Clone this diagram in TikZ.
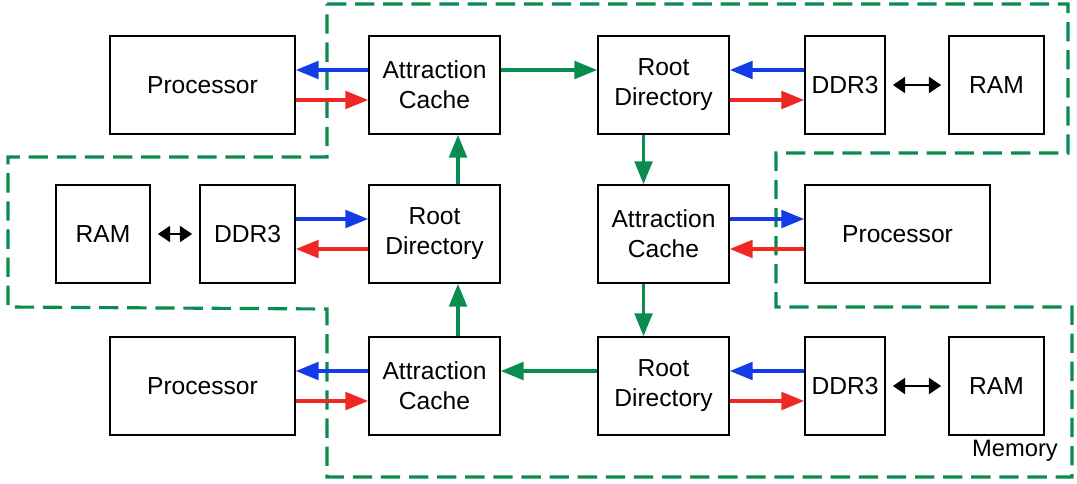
\documentclass[tikz,border=0pt]{standalone}
\usepackage{fontspec}
\setmainfont{Liberation Sans}
\usetikzlibrary{arrows.meta}
\tikzset{
  box/.style={draw, black, line width=0.9pt, minimum height=1.96cm, inner sep=0pt, align=center, font=\fontsize{14}{17}\selectfont},
  tip/.style={-{Triangle[length=13pt,width=10pt]}, line width=2pt},
  blue arrow/.style={tip, draw={rgb,255:red,20;green,60;blue,230}},
  red arrow/.style={tip, draw={rgb,255:red,240;green,40;blue,35}},
  green arrow/.style={tip, draw={rgb,255:red,10;green,140;blue,80}},
  black arrow/.style={{Triangle[length=7pt,width=9pt]}-{Triangle[length=7pt,width=9pt]}, line width=1.5pt, shorten <=4pt, shorten >=4pt},
}
\begin{document}
\begin{tikzpicture}[x=0.02cm, y=-0.02cm]
  \useasboundingbox (0,0) rectangle (1077,483);

  %% memory region
  \draw[dashed, dash pattern=on 11pt off 5pt, line width=1.8pt, draw={rgb,255:red,10;green,140;blue,80}]
    (327,4) -- (1068,4) -- (1068,153) -- (776,153) -- (776,307) -- (1072,307)
    -- (1072,477) -- (327,477) -- (327,309) -- (8,307) -- (8,157) -- (327,157) -- cycle;
  \node[anchor=south east, font=\fontsize{13.5}{15}\selectfont] (memlbl) at (1064,468) {Memory};

  %% row 1
  \node[box, minimum width=3.7cm]  (procA) at (202.5,85) {Processor};
  \node[box, minimum width=2.62cm] (acA)   at (434.5,85) {Attraction\\Cache};
  \node[box, minimum width=2.62cm] (rdA)   at (663.5,85) {Root\\Directory};
  \node[box, minimum width=1.6cm]  (ddrA)  at (845,85)   {DDR3};
  \node[box, minimum width=1.9cm]  (ramA)  at (996.5,85) {RAM};

  %% row 2
  \node[box, minimum width=1.88cm] (ramB)  at (103,234)   {RAM};
  \node[box, minimum width=1.9cm]  (ddrB)  at (247.5,234) {DDR3};
  \node[box, minimum width=2.62cm] (rdB)   at (434.5,234) {Root\\Directory};
  \node[box, minimum width=2.62cm] (acB)   at (663.5,234) {Attraction\\Cache};
  \node[box, minimum width=3.7cm]  (procB) at (897.5,234) {Processor};

  %% row 3
  \node[box, minimum width=3.7cm]  (procC) at (202.5,386) {Processor};
  \node[box, minimum width=2.62cm] (acC)   at (434.5,386) {Attraction\\Cache};
  \node[box, minimum width=2.62cm] (rdC)   at (663.5,386) {Root\\Directory};
  \node[box, minimum width=1.6cm]  (ddrC)  at (845,386)   {DDR3};
  \node[box, minimum width=1.9cm]  (ramC)  at (996.5,386) {RAM};

  %% processor <-> cache
  \draw[blue arrow] ([yshift=0.3cm]acA.west) -- ([yshift=0.3cm]procA.east);
  \draw[red arrow]  ([yshift=-0.3cm]procA.east) -- ([yshift=-0.3cm]acA.west);
  \draw[blue arrow] ([yshift=0.3cm]acB.east) -- ([yshift=0.3cm]procB.west);
  \draw[red arrow]  ([yshift=-0.3cm]procB.west) -- ([yshift=-0.3cm]acB.east);
  \draw[blue arrow] ([yshift=0.3cm]acC.west) -- ([yshift=0.3cm]procC.east);
  \draw[red arrow]  ([yshift=-0.3cm]procC.east) -- ([yshift=-0.3cm]acC.west);

  %% DDR3 <-> directory
  \draw[blue arrow] ([yshift=0.3cm]ddrA.west) -- ([yshift=0.3cm]rdA.east);
  \draw[red arrow]  ([yshift=-0.3cm]rdA.east) -- ([yshift=-0.3cm]ddrA.west);
  \draw[blue arrow] ([yshift=0.3cm]ddrB.east) -- ([yshift=0.3cm]rdB.west);
  \draw[red arrow]  ([yshift=-0.3cm]rdB.west) -- ([yshift=-0.3cm]ddrB.east);
  \draw[blue arrow] ([yshift=0.3cm]ddrC.west) -- ([yshift=0.3cm]rdC.east);
  \draw[red arrow]  ([yshift=-0.3cm]rdC.east) -- ([yshift=-0.3cm]ddrC.west);

  %% RAM <-> DDR3
  \draw[black arrow] (ddrA) -- (ramA);
  \draw[black arrow] (ramB) -- (ddrB);
  \draw[black arrow] (ddrC) -- (ramC);

  %% ring
  \draw[green arrow] ([yshift=0.3cm]acA.east) -- ([yshift=0.3cm]rdA.west);
  \draw[green arrow] ([xshift=-0.4cm]rdA.south) -- ([xshift=-0.4cm]acB.north);
  \draw[green arrow] ([xshift=-0.4cm]acB.south) -- ([xshift=-0.4cm]rdC.north);
  \draw[green arrow] ([yshift=0.3cm]rdC.west) -- ([yshift=0.3cm]acC.east);
  \draw[green arrow] ([xshift=0.47cm]acC.north) -- ([xshift=0.47cm]rdB.south);
  \draw[green arrow] ([xshift=0.47cm]rdB.north) -- ([xshift=0.47cm]acA.south);
\end{tikzpicture}
\end{document}
